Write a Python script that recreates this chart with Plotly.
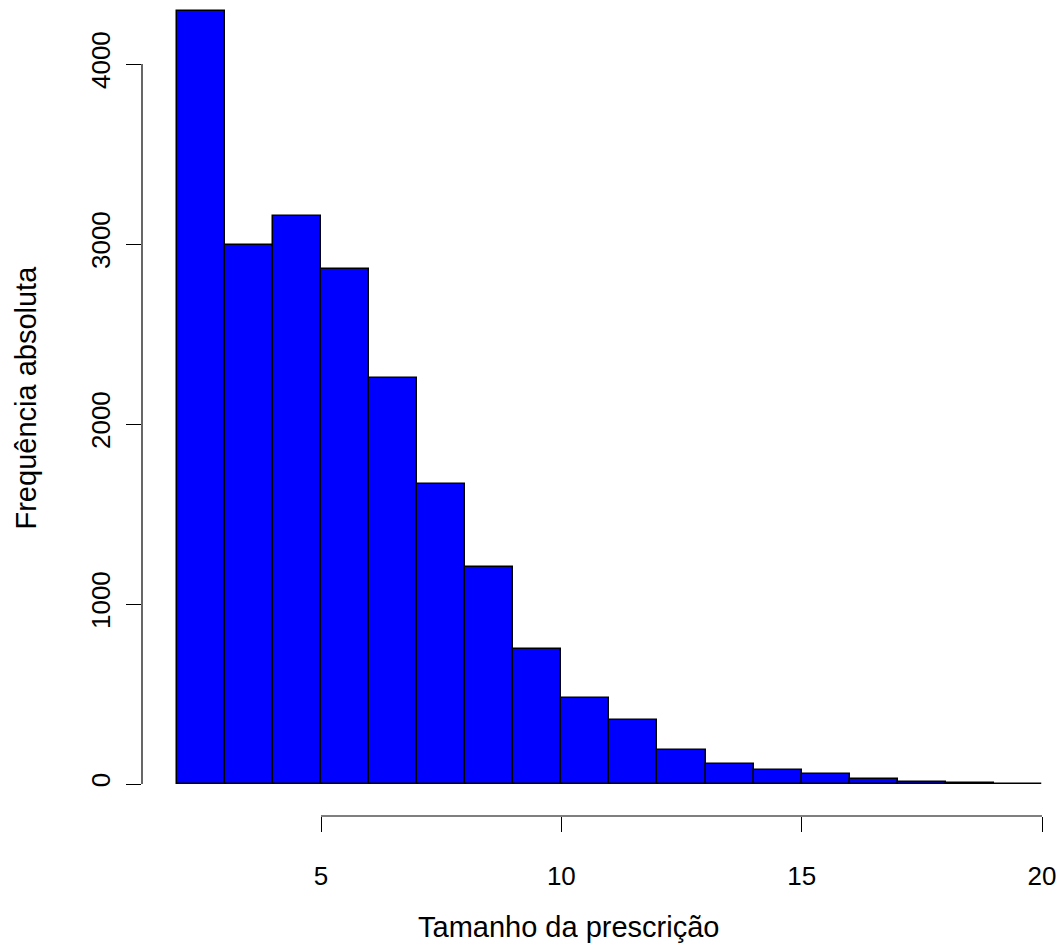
import plotly.graph_objects as go

# Histogram bins (prescription size) and absolute frequencies
bin_left = [2, 3, 4, 5, 6, 7, 8, 9, 10, 11, 12, 13, 14, 15, 16, 17, 18, 19]
counts = [4294, 2994, 3154, 2862, 2254, 1665, 1207, 748, 478, 356, 189, 111, 76, 56, 28, 13, 3, 1]
bin_width = 1
x_ticks = [5, 10, 15, 20]
y_ticks = [0, 1000, 2000, 3000, 4000]
x_title = "Tamanho da prescrição"
y_title = "Frequência absoluta"

FONT = "Liberation Sans, Arial, Helvetica, sans-serif"

centers = [b + bin_width / 2 for b in bin_left]

fig = go.Figure()
fig.add_trace(go.Bar(
    x=centers, y=counts, width=[bin_width] * len(counts),
    marker=dict(color="#0000FF", line=dict(color="black", width=1.5)),
    hoverinfo="x+y", showlegend=False,
))

W, H = 1062, 945
L, R, T, B = 142, 0, 0, 129

fig.update_layout(
    width=W, height=H,
    margin=dict(l=L, r=R, t=T, b=B, pad=0),
    paper_bgcolor="white", plot_bgcolor="white",
    bargap=0,
    font=dict(family=FONT, color="black", size=26),
    xaxis=dict(
        range=[1.276, 20.416], tickvals=x_ticks, ticktext=[str(v) for v in x_ticks],
        ticks="outside", ticklen=15, tickwidth=1.2, tickcolor="black",
        showgrid=False, zeroline=False, showline=False,
        tickfont=dict(size=26, family=FONT), ticklabelstandoff=22,
    ),
    yaxis=dict(
        range=[-177.8, 4355.6], tickvals=y_ticks, ticktext=[str(v) for v in y_ticks],
        ticks="outside", ticklen=15, tickwidth=1.2, tickcolor="black",
        showgrid=False, zeroline=False, showline=False,
        tickangle=-90, tickfont=dict(size=26, family=FONT), ticklabelstandoff=6,
    ),
    shapes=[
        dict(type="line", xref="x", yref="paper", x0=x_ticks[0], x1=x_ticks[-1], y0=0, y1=0,
             line=dict(color="black", width=1.2)),
        dict(type="line", xref="paper", yref="y", x0=0, x1=0, y0=y_ticks[0], y1=y_ticks[-1],
             line=dict(color="black", width=1.2)),
    ],
    annotations=[
        dict(text=x_title, xref="paper", yref="paper", x=(568 - L) / (W - L - R),
             y=-(927 - (H - B)) / (H - B - T), xanchor="center", yanchor="middle",
             showarrow=False, font=dict(size=29, family=FONT)),
        dict(text=y_title, xref="paper", yref="paper", x=(25 - L) / (W - L - R),
             y=(H - B - 397.5) / (H - B - T), xanchor="center", yanchor="middle",
             textangle=-90, showarrow=False, font=dict(size=29, family=FONT)),
    ],
)

fig.write_html("out.html")
